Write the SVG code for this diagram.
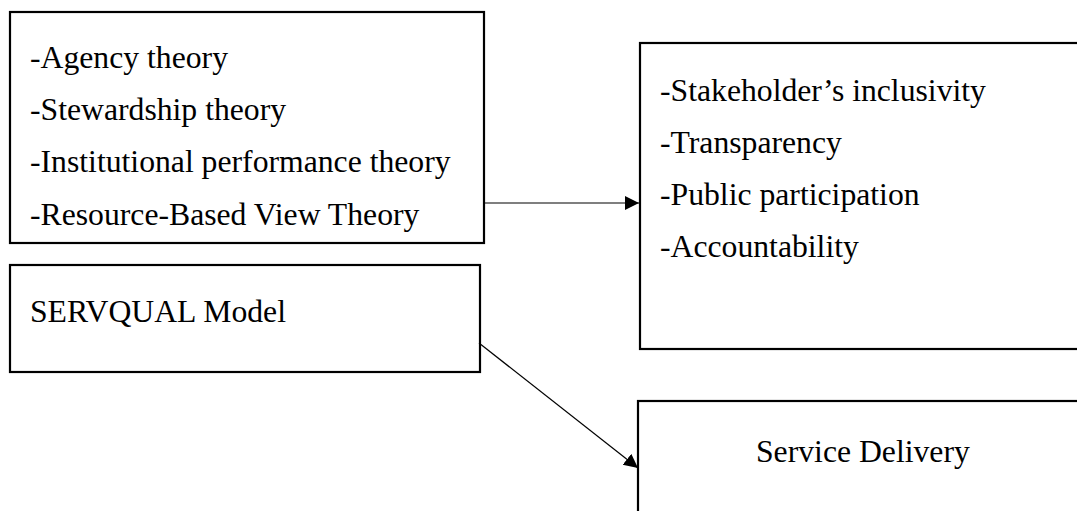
<svg xmlns="http://www.w3.org/2000/svg" width="1077" height="511" viewBox="0 0 1077 511">
  <style>
    .box { fill: #ffffff; stroke: #000000; stroke-width: 2.2; }
    .lbl { font-family: "Liberation Serif", "Times New Roman", serif; font-size: 31.7px; fill: #000000; }
    .conn { fill: none; stroke: #000000; stroke-width: 1.2; }
  </style>
  <defs>
    <marker id="arrow" markerUnits="userSpaceOnUse" markerWidth="15" markerHeight="15" refX="14" refY="7" orient="auto" viewBox="0 0 15 15">
      <path d="M0,0 L14,7 L0,14 Z" fill="#000000"/>
    </marker>
  </defs>
  <rect width="1077" height="511" fill="#ffffff"/>

  <g id="theories">
    <rect class="box" x="10" y="12" width="474" height="231"/>
    <text class="lbl" x="30" y="68">-Agency theory</text>
    <text class="lbl" x="30" y="120">-Stewardship theory</text>
    <text class="lbl" x="30" y="172">-Institutional performance theory</text>
    <text class="lbl" x="30" y="225">-Resource-Based View Theory</text>
  </g>

  <g id="servqual">
    <rect class="box" x="10" y="265" width="470" height="107"/>
    <text class="lbl" x="30" y="322">SERVQUAL Model</text>
  </g>

  <g id="governance">
    <rect class="box" x="640" y="43" width="500" height="306"/>
    <text class="lbl" x="660" y="101">-Stakeholder’s inclusivity</text>
    <text class="lbl" x="660" y="153">-Transparency</text>
    <text class="lbl" x="660" y="205">-Public participation</text>
    <text class="lbl" x="660" y="257">-Accountability</text>
  </g>

  <g id="service-delivery">
    <rect class="box" x="638" y="401" width="500" height="200"/>
    <text class="lbl" x="756" y="462">Service Delivery</text>
  </g>

  <g id="connectors">
    <line class="conn" x1="485" y1="203" x2="639" y2="203" marker-end="url(#arrow)"/>
    <line class="conn" x1="479" y1="343" x2="638" y2="468" marker-end="url(#arrow)"/>
  </g>
</svg>
